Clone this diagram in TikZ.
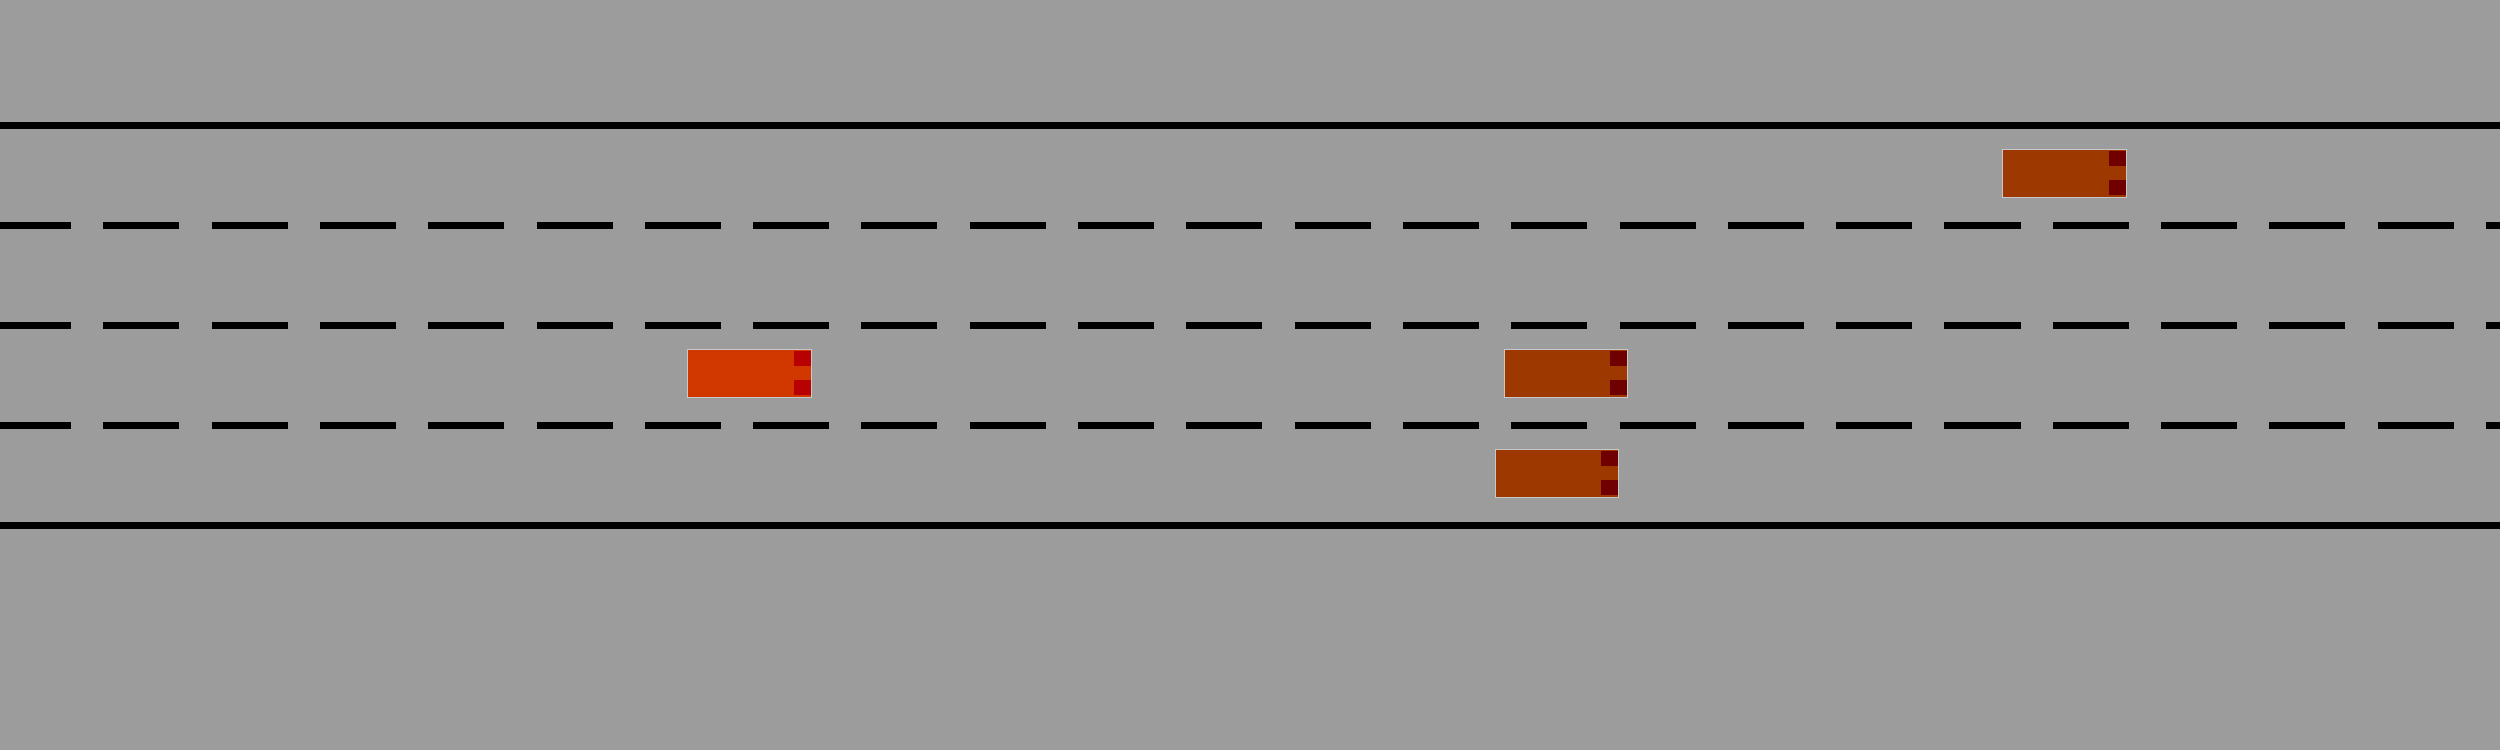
\documentclass[tikz,border=0pt]{standalone}
\usepackage{tikz}
\usetikzlibrary{calc}
\definecolor{asphalt}{HTML}{9C9C9C}
\definecolor{egobody}{HTML}{D03800}
\definecolor{egolamp}{HTML}{B80000}
\definecolor{otherbody}{HTML}{9C3800}
\definecolor{otherlamp}{HTML}{700000}
\definecolor{rim}{HTML}{C8C8C8}
\tikzset{roadedge/.style={line width=0.07cm,draw=black}, lanemark/.style={line width=0.07cm,draw=black,dash pattern=on 0.76cm off 0.3224cm,dash phase=0.05cm}, car/.style={draw=rim,line width=0.01cm,minimum width=1.23cm,minimum height=0.48cm,inner sep=0pt,outer sep=0pt}, lamp/.style={minimum width=0.17cm,minimum height=0.15cm,inner sep=0pt,outer sep=0pt}}

\begin{document}
\begin{tikzpicture}[x=0.01cm,y=-0.01cm]
\useasboundingbox (0,0) rectangle (2500,750);
\fill[asphalt] (0,0) rectangle (2500,750);
\draw[roadedge] (0,125.5)--(2500,125.5);
\draw[lanemark] (0,225.5)--(2500,225.5);
\draw[lanemark] (0,325.5)--(2500,325.5);
\draw[lanemark] (0,425.5)--(2500,425.5);
\draw[roadedge] (0,525.5)--(2500,525.5);
\node[car,fill=egobody] (ego) at (749.5,373.8) {};
\node[lamp,fill=egolamp,anchor=north east] (ego-l) at ($(ego.north east)+(-0.5,1.5)$) {};
\node[lamp,fill=egolamp,anchor=south east] (ego-r) at ($(ego.south east)+(-0.5,-2.5)$) {};
\node[car,fill=otherbody] (mid) at (1566.3,373.8) {};
\node[lamp,fill=otherlamp,anchor=north east] (mid-l) at ($(mid.north east)+(-0.5,1.5)$) {};
\node[lamp,fill=otherlamp,anchor=south east] (mid-r) at ($(mid.south east)+(-0.5,-2.5)$) {};
\node[car,fill=otherbody] (top) at (2064.5,173.8) {};
\node[lamp,fill=otherlamp,anchor=north east] (top-l) at ($(top.north east)+(-0.5,1.5)$) {};
\node[lamp,fill=otherlamp,anchor=south east] (top-r) at ($(top.south east)+(-0.5,-2.5)$) {};
\node[car,fill=otherbody] (low) at (1557.3,473.8) {};
\node[lamp,fill=otherlamp,anchor=north east] (low-l) at ($(low.north east)+(-0.5,1.5)$) {};
\node[lamp,fill=otherlamp,anchor=south east] (low-r) at ($(low.south east)+(-0.5,-2.5)$) {};
\end{tikzpicture}
\end{document}
